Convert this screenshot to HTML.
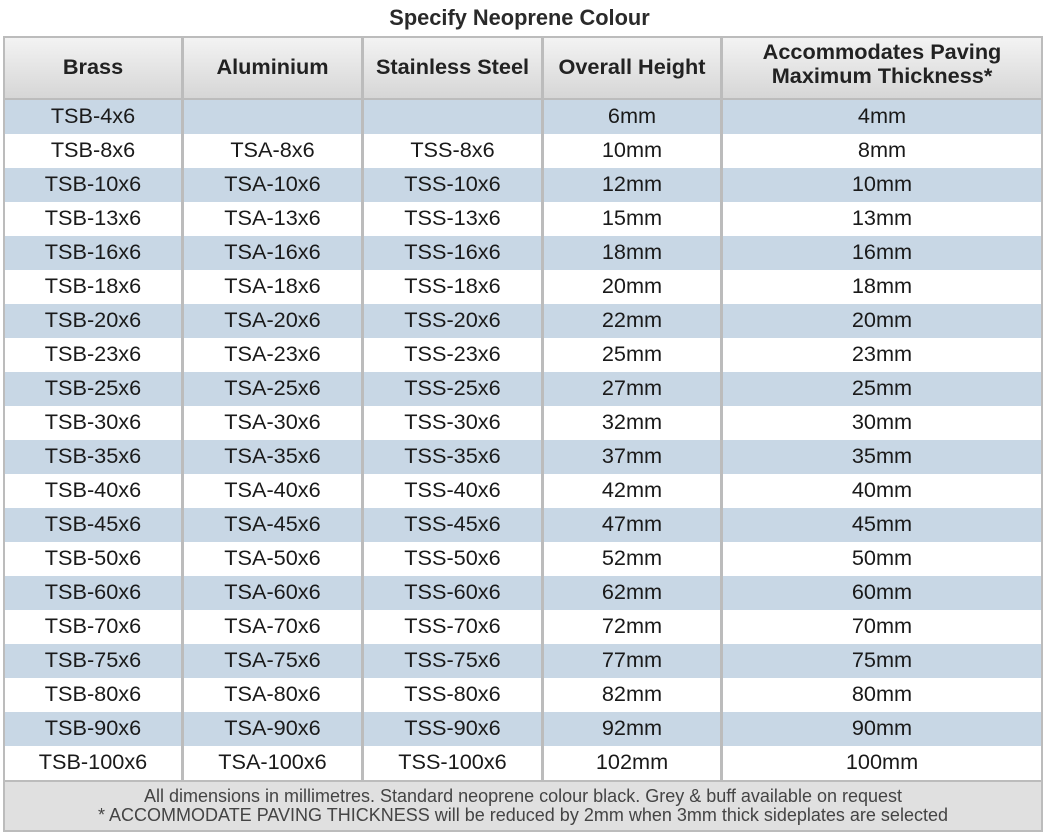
<!DOCTYPE html>
<html>
<head>
<meta charset="utf-8">
<style>
  html, body { margin: 0; padding: 0; background: #ffffff; }
  body { width: 1044px; height: 836px; position: relative; overflow: hidden;
         font-family: "Liberation Sans", Arial, Helvetica, sans-serif; }
  .title { position: absolute; left: 0; top: 0; width: 1039px; height: 36px; line-height: 36px;
           text-align: center; font-weight: bold; font-size: 21.8px; color: #2a2a2a; }
  .frame { position: absolute; left: 3px; top: 36px; width: 1040px; height: 796px; background: #bcbcbc; }
  .c { position: absolute; text-align: center; color: #1a1a1a; font-size: 21.7px; white-space: nowrap; }
  .h { background: linear-gradient(#f3f3f3, #d6d6d6); font-weight: bold; color: #222; top: 38px; height: 60px; line-height: 57px; }
  .h2 { line-height: 24px; }
  .h2 span { display: block; position: relative; top: 2px; }
  .r { height: 34px; line-height: 31px; }
  .b { background: #c8d7e5; }
  .w { background: #ffffff; }
  .foot { position: absolute; left: 5px; top: 782px; width: 1036px; height: 48px; background: #e0e0e0;
          text-align: center; color: #444; font-size: 18px; line-height: 19px; }
  .foot div { position: relative; top: 5px; }
</style>
</head>
<body>
<div class="title">Specify Neoprene Colour</div>
<div class="frame"></div>

<div class="c h" style="left:5px;width:176px;">Brass</div>
<div class="c h" style="left:184px;width:177px;">Aluminium</div>
<div class="c h" style="left:364px;width:177px;">Stainless Steel</div>
<div class="c h" style="left:544px;width:176px;">Overall Height</div>
<div class="c h h2" style="left:723px;width:318px;"><span>Accommodates Paving</span><span>Maximum Thickness*</span></div>

<div class="c r b" style="left:5px;top:100px;width:176px;">TSB-4x6</div>
<div class="c r b" style="left:184px;top:100px;width:177px;"></div>
<div class="c r b" style="left:364px;top:100px;width:177px;"></div>
<div class="c r b" style="left:544px;top:100px;width:176px;">6mm</div>
<div class="c r b" style="left:723px;top:100px;width:318px;">4mm</div>

<div class="c r w" style="left:5px;top:134px;width:176px;">TSB-8x6</div>
<div class="c r w" style="left:184px;top:134px;width:177px;">TSA-8x6</div>
<div class="c r w" style="left:364px;top:134px;width:177px;">TSS-8x6</div>
<div class="c r w" style="left:544px;top:134px;width:176px;">10mm</div>
<div class="c r w" style="left:723px;top:134px;width:318px;">8mm</div>

<div class="c r b" style="left:5px;top:168px;width:176px;">TSB-10x6</div>
<div class="c r b" style="left:184px;top:168px;width:177px;">TSA-10x6</div>
<div class="c r b" style="left:364px;top:168px;width:177px;">TSS-10x6</div>
<div class="c r b" style="left:544px;top:168px;width:176px;">12mm</div>
<div class="c r b" style="left:723px;top:168px;width:318px;">10mm</div>

<div class="c r w" style="left:5px;top:202px;width:176px;">TSB-13x6</div>
<div class="c r w" style="left:184px;top:202px;width:177px;">TSA-13x6</div>
<div class="c r w" style="left:364px;top:202px;width:177px;">TSS-13x6</div>
<div class="c r w" style="left:544px;top:202px;width:176px;">15mm</div>
<div class="c r w" style="left:723px;top:202px;width:318px;">13mm</div>

<div class="c r b" style="left:5px;top:236px;width:176px;">TSB-16x6</div>
<div class="c r b" style="left:184px;top:236px;width:177px;">TSA-16x6</div>
<div class="c r b" style="left:364px;top:236px;width:177px;">TSS-16x6</div>
<div class="c r b" style="left:544px;top:236px;width:176px;">18mm</div>
<div class="c r b" style="left:723px;top:236px;width:318px;">16mm</div>

<div class="c r w" style="left:5px;top:270px;width:176px;">TSB-18x6</div>
<div class="c r w" style="left:184px;top:270px;width:177px;">TSA-18x6</div>
<div class="c r w" style="left:364px;top:270px;width:177px;">TSS-18x6</div>
<div class="c r w" style="left:544px;top:270px;width:176px;">20mm</div>
<div class="c r w" style="left:723px;top:270px;width:318px;">18mm</div>

<div class="c r b" style="left:5px;top:304px;width:176px;">TSB-20x6</div>
<div class="c r b" style="left:184px;top:304px;width:177px;">TSA-20x6</div>
<div class="c r b" style="left:364px;top:304px;width:177px;">TSS-20x6</div>
<div class="c r b" style="left:544px;top:304px;width:176px;">22mm</div>
<div class="c r b" style="left:723px;top:304px;width:318px;">20mm</div>

<div class="c r w" style="left:5px;top:338px;width:176px;">TSB-23x6</div>
<div class="c r w" style="left:184px;top:338px;width:177px;">TSA-23x6</div>
<div class="c r w" style="left:364px;top:338px;width:177px;">TSS-23x6</div>
<div class="c r w" style="left:544px;top:338px;width:176px;">25mm</div>
<div class="c r w" style="left:723px;top:338px;width:318px;">23mm</div>

<div class="c r b" style="left:5px;top:372px;width:176px;">TSB-25x6</div>
<div class="c r b" style="left:184px;top:372px;width:177px;">TSA-25x6</div>
<div class="c r b" style="left:364px;top:372px;width:177px;">TSS-25x6</div>
<div class="c r b" style="left:544px;top:372px;width:176px;">27mm</div>
<div class="c r b" style="left:723px;top:372px;width:318px;">25mm</div>

<div class="c r w" style="left:5px;top:406px;width:176px;">TSB-30x6</div>
<div class="c r w" style="left:184px;top:406px;width:177px;">TSA-30x6</div>
<div class="c r w" style="left:364px;top:406px;width:177px;">TSS-30x6</div>
<div class="c r w" style="left:544px;top:406px;width:176px;">32mm</div>
<div class="c r w" style="left:723px;top:406px;width:318px;">30mm</div>

<div class="c r b" style="left:5px;top:440px;width:176px;">TSB-35x6</div>
<div class="c r b" style="left:184px;top:440px;width:177px;">TSA-35x6</div>
<div class="c r b" style="left:364px;top:440px;width:177px;">TSS-35x6</div>
<div class="c r b" style="left:544px;top:440px;width:176px;">37mm</div>
<div class="c r b" style="left:723px;top:440px;width:318px;">35mm</div>

<div class="c r w" style="left:5px;top:474px;width:176px;">TSB-40x6</div>
<div class="c r w" style="left:184px;top:474px;width:177px;">TSA-40x6</div>
<div class="c r w" style="left:364px;top:474px;width:177px;">TSS-40x6</div>
<div class="c r w" style="left:544px;top:474px;width:176px;">42mm</div>
<div class="c r w" style="left:723px;top:474px;width:318px;">40mm</div>

<div class="c r b" style="left:5px;top:508px;width:176px;">TSB-45x6</div>
<div class="c r b" style="left:184px;top:508px;width:177px;">TSA-45x6</div>
<div class="c r b" style="left:364px;top:508px;width:177px;">TSS-45x6</div>
<div class="c r b" style="left:544px;top:508px;width:176px;">47mm</div>
<div class="c r b" style="left:723px;top:508px;width:318px;">45mm</div>

<div class="c r w" style="left:5px;top:542px;width:176px;">TSB-50x6</div>
<div class="c r w" style="left:184px;top:542px;width:177px;">TSA-50x6</div>
<div class="c r w" style="left:364px;top:542px;width:177px;">TSS-50x6</div>
<div class="c r w" style="left:544px;top:542px;width:176px;">52mm</div>
<div class="c r w" style="left:723px;top:542px;width:318px;">50mm</div>

<div class="c r b" style="left:5px;top:576px;width:176px;">TSB-60x6</div>
<div class="c r b" style="left:184px;top:576px;width:177px;">TSA-60x6</div>
<div class="c r b" style="left:364px;top:576px;width:177px;">TSS-60x6</div>
<div class="c r b" style="left:544px;top:576px;width:176px;">62mm</div>
<div class="c r b" style="left:723px;top:576px;width:318px;">60mm</div>

<div class="c r w" style="left:5px;top:610px;width:176px;">TSB-70x6</div>
<div class="c r w" style="left:184px;top:610px;width:177px;">TSA-70x6</div>
<div class="c r w" style="left:364px;top:610px;width:177px;">TSS-70x6</div>
<div class="c r w" style="left:544px;top:610px;width:176px;">72mm</div>
<div class="c r w" style="left:723px;top:610px;width:318px;">70mm</div>

<div class="c r b" style="left:5px;top:644px;width:176px;">TSB-75x6</div>
<div class="c r b" style="left:184px;top:644px;width:177px;">TSA-75x6</div>
<div class="c r b" style="left:364px;top:644px;width:177px;">TSS-75x6</div>
<div class="c r b" style="left:544px;top:644px;width:176px;">77mm</div>
<div class="c r b" style="left:723px;top:644px;width:318px;">75mm</div>

<div class="c r w" style="left:5px;top:678px;width:176px;">TSB-80x6</div>
<div class="c r w" style="left:184px;top:678px;width:177px;">TSA-80x6</div>
<div class="c r w" style="left:364px;top:678px;width:177px;">TSS-80x6</div>
<div class="c r w" style="left:544px;top:678px;width:176px;">82mm</div>
<div class="c r w" style="left:723px;top:678px;width:318px;">80mm</div>

<div class="c r b" style="left:5px;top:712px;width:176px;">TSB-90x6</div>
<div class="c r b" style="left:184px;top:712px;width:177px;">TSA-90x6</div>
<div class="c r b" style="left:364px;top:712px;width:177px;">TSS-90x6</div>
<div class="c r b" style="left:544px;top:712px;width:176px;">92mm</div>
<div class="c r b" style="left:723px;top:712px;width:318px;">90mm</div>

<div class="c r w" style="left:5px;top:746px;width:176px;">TSB-100x6</div>
<div class="c r w" style="left:184px;top:746px;width:177px;">TSA-100x6</div>
<div class="c r w" style="left:364px;top:746px;width:177px;">TSS-100x6</div>
<div class="c r w" style="left:544px;top:746px;width:176px;">102mm</div>
<div class="c r w" style="left:723px;top:746px;width:318px;">100mm</div>

<div class="foot">
  <div>All dimensions in millimetres. Standard neoprene colour black. Grey &amp; buff available on request</div>
  <div>* ACCOMMODATE PAVING THICKNESS will be reduced by 2mm when 3mm thick sideplates are selected</div>
</div>
</body>
</html>
